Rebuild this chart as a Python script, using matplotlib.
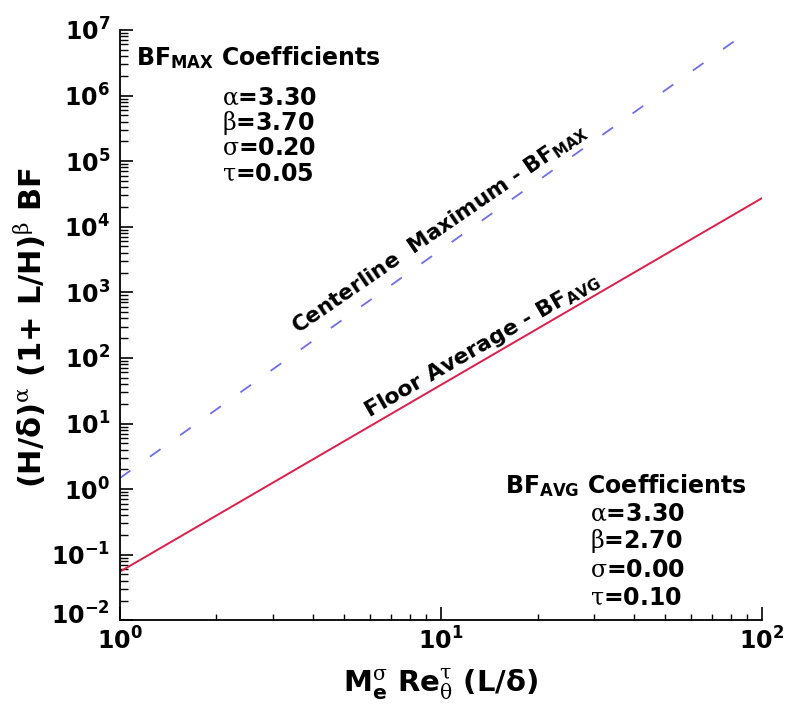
import matplotlib
matplotlib.use("Agg")
import matplotlib.pyplot as plt
from matplotlib.ticker import LogLocator, NullFormatter, FuncFormatter
from matplotlib.transforms import ScaledTranslation
import numpy as np

plt.rcParams['font.family'] = ['DejaVu Sans']
plt.rcParams['font.weight'] = 'bold'
plt.rcParams['axes.labelweight'] = 'bold'
plt.rcParams['mathtext.fontset'] = 'custom'
plt.rcParams['mathtext.rm'] = 'DejaVu Sans:bold'
plt.rcParams['mathtext.it'] = 'DejaVu Serif:weight=normal'
plt.rcParams['mathtext.bf'] = 'DejaVu Sans:bold'
plt.rcParams['axes.unicode_minus'] = False

# correlation lines (end points of straight lines in log-log space)
x_vals = [1.0, 100.0]
bf_max = [1.47, 1.35e7]
bf_avg = [0.055, 2.73e4]

max_coeffs = [r"$\alpha$=3.30", r"$\beta$=3.70", r"$\sigma$=0.20", r"$\tau$=0.05"]
avg_coeffs = [r"$\alpha$=3.30", r"$\beta$=2.70", r"$\sigma$=0.00", r"$\tau$=0.10"]

fig = plt.figure(figsize=(7.88, 7.13), dpi=100)
ax = fig.add_axes([0.152, 0.130, 0.815, 0.828])

ax.plot(x_vals, bf_max, color='#6e6ee8', lw=1.3, dashes=(7.2, 13.3))
ax.plot(x_vals, bf_avg, color='#dc1e4a', lw=1.4)

ax.set_xscale('log')
ax.set_yscale('log')
ax.set_xlim(1, 100)
ax.set_ylim(1e-2, 1e7)

for s in ('top', 'right'):
    ax.spines[s].set_visible(False)
for s in ('left', 'bottom'):
    ax.spines[s].set_linewidth(1.3)


def pow10(v, pos):
    e = int(round(np.log10(v)))
    return r"$\mathdefault{10^{%d}}$" % e


ax.yaxis.set_major_locator(LogLocator(base=10, numticks=20))
ax.yaxis.set_minor_locator(LogLocator(base=10, subs=range(2, 10), numticks=20))
ax.yaxis.set_major_formatter(FuncFormatter(pow10))
ax.xaxis.set_major_formatter(FuncFormatter(pow10))
ax.yaxis.set_minor_formatter(NullFormatter())
ax.xaxis.set_minor_formatter(NullFormatter())

ax.tick_params(which='major', direction='in', length=9.5, width=1.2, labelsize=17)
ax.tick_params(axis='y', which='minor', direction='in', length=5.5, width=1.0)
ax.tick_params(axis='x', which='minor', direction='in', length=4, width=1.0)
ax.tick_params(axis='y', which='major', pad=7)
ax.tick_params(axis='x', which='major', pad=5)

# lift the lowest y tick label so it clears the first x tick label
lift = ScaledTranslation(0, 5 / 72, fig.dpi_scale_trans)
ylocs = list(ax.yaxis.get_majorticklocs())
yticks = ax.yaxis.get_major_ticks(len(ylocs))
for loc, tk in zip(ylocs, yticks):
    if np.isclose(loc, 1e-2):
        tk.label1.set_transform(tk.label1.get_transform() + lift)

ax.set_xlabel(r"M$_{\mathrm{e}}^{\sigma}$ Re$_{\theta}^{\tau}$ (L/δ)", fontsize=21)
ax.set_ylabel(r"(H/δ)$^{\alpha}$ (1+ L/H)$^{\beta}$ BF", fontsize=22)
ax.xaxis.set_label_coords(0.5, -0.078)
ax.yaxis.set_label_coords(-0.112, 0.495)

# coefficient blocks
ax.text(0.025, 0.954, r"BF$_{\mathrm{MAX}}$ Coefficients", transform=ax.transAxes,
        fontsize=17, va='center', ha='left')
for i, t in enumerate(max_coeffs):
    ax.text(0.159, 0.885 - i * 0.0425, t, transform=ax.transAxes,
            fontsize=17, va='center', ha='left')

ax.text(0.600, 0.229, r"BF$_{\mathrm{AVG}}$ Coefficients", transform=ax.transAxes,
        fontsize=17, va='center', ha='left')
for i, t in enumerate(avg_coeffs):
    ax.text(0.732, 0.181 - i * 0.0475, t, transform=ax.transAxes,
            fontsize=17, va='center', ha='left')

# line labels
ax.text(0.277, 0.485, r"Centerline  Maximum - BF$_{\mathrm{MAX}}$", transform=ax.transAxes,
        fontsize=15.5, rotation=34.5, rotation_mode='anchor', ha='left', va='baseline')
ax.text(0.388, 0.343, r"Floor Average - BF$_{\mathrm{AVG}}$", transform=ax.transAxes,
        fontsize=15.8, rotation=30, rotation_mode='anchor', ha='left', va='baseline')

fig.savefig("out.png", dpi=100)
